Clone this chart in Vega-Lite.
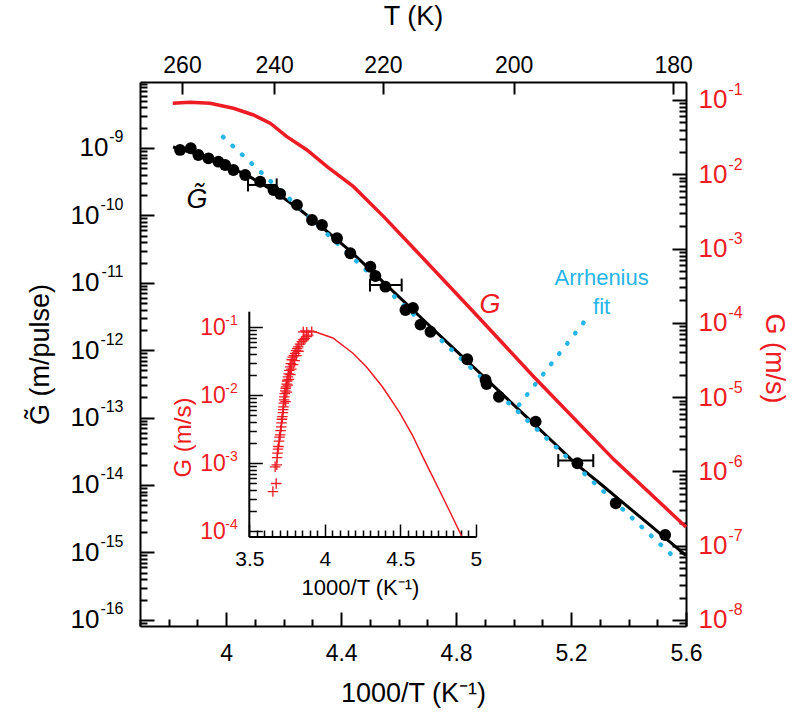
{
  "$schema": "https://vega.github.io/schema/vega-lite/v6.json",
  "autosize": {"type": "none"},
  "width": 546,
  "height": 544,
  "padding": {"left": 140, "top": 82, "right": 107, "bottom": 89},
  "background": "white",
  "config": {
    "font": "Liberation Sans",
    "view": {"stroke": null},
    "axis": {"grid": false, "domainColor": "black", "domainWidth": 2, "tickColor": "black", "tickWidth": 2, "labelColor": "black", "titleColor": "black", "titleFontWeight": "normal", "labelFont": "Liberation Sans", "titleFont": "Liberation Sans", "labelOverlap": false, "labelFlush": false, "labelBound": false}
  },
  "datasets": {
    "dots": [
      {"x": 3.8394, "g": 9.35e-10}, {"x": 3.8767, "g": 9.9e-10}, {"x": 3.9032, "g": 7.87e-10}, {"x": 3.9381, "g": 7.03e-10},
      {"x": 3.9729, "g": 6.26e-10}, {"x": 3.9963, "g": 5.6e-10}, {"x": 4.0252, "g": 4.72e-10}, {"x": 4.066, "g": 3.98e-10},
      {"x": 4.1183, "g": 3.16e-10}, {"x": 4.1646, "g": 2.38e-10}, {"x": 4.188, "g": 2.08e-10}, {"x": 4.2462, "g": 1.43e-10},
      {"x": 4.2985, "g": 8.55e-11}, {"x": 4.3333, "g": 7.21e-11}, {"x": 4.3856, "g": 4.58e-11}, {"x": 4.432, "g": 2.74e-11},
      {"x": 4.5017, "g": 1.73e-11}, {"x": 4.5191, "g": 1.26e-11}, {"x": 4.554, "g": 8.75e-12}, {"x": 4.6237, "g": 3.95e-12},
      {"x": 4.6498, "g": 4.23e-12}, {"x": 4.676, "g": 2.4e-12}, {"x": 4.7108, "g": 1.88e-12}, {"x": 4.8387, "g": 7.33e-13},
      {"x": 4.9025, "g": 3.61e-13}, {"x": 4.906, "g": 3.15e-13}, {"x": 4.9489, "g": 2.04e-13}, {"x": 5.0768, "g": 8.7e-14},
      {"x": 5.2221, "g": 2.1e-14}, {"x": 5.3556, "g": 5.35e-15}, {"x": 5.5275, "g": 1.81e-15}
    ],
    "fit": [
      {"x": 3.815, "g": 1.035e-9}, {"x": 3.909, "g": 7.87e-10}, {"x": 3.996, "g": 5.6e-10}, {"x": 4.083, "g": 3.72e-10},
      {"x": 4.171, "g": 2.22e-10}, {"x": 4.258, "g": 1.2e-10}, {"x": 4.345, "g": 6.07e-11}, {"x": 4.432, "g": 2.96e-11},
      {"x": 4.519, "g": 1.32e-11}, {"x": 4.606, "g": 5.92e-12}, {"x": 4.693, "g": 2.64e-12}, {"x": 4.78, "g": 1.18e-12},
      {"x": 4.868, "g": 5.26e-13}, {"x": 4.955, "g": 2.35e-13}, {"x": 5.042, "g": 1.05e-13}, {"x": 5.129, "g": 4.69e-14},
      {"x": 5.216, "g": 2.08e-14}, {"x": 5.303, "g": 1.035e-14}, {"x": 5.39, "g": 5.06e-15}, {"x": 5.478, "g": 2.47e-15},
      {"x": 5.6, "g": 9.0e-16}
    ],
    "arr": [{"x": 3.989, "g": 1.46e-9}, {"x": 5.558, "g": 8.55e-16}],
    "ptr": [{"x": 5.019, "g": 1.54e-13}, {"x": 5.251, "g": 2.81e-12}],
    "err": [
      {"x": 4.0758, "hi": 4.1756, "g": 2.83e-10},
      {"x": 4.5003, "hi": 4.6106, "g": 9.25e-12},
      {"x": 5.1555, "hi": 5.2773, "g": 2.3e-14}
    ],
    "caps": [
      {"x": 4.0758, "g": 2.83e-10}, {"x": 4.1756, "g": 2.83e-10},
      {"x": 4.5003, "g": 9.25e-12}, {"x": 4.6106, "g": 9.25e-12},
      {"x": 5.1555, "g": 2.3e-14}, {"x": 5.2773, "g": 2.3e-14}
    ],
    "cyanText": [{"x": 5.3065, "g": 1.18e-11, "t": "Arrhenius"}, {"x": 5.3065, "g": 4.37e-12, "t": "fit"}],
    "redText": [{"x": 4.918, "g": 4.69e-12, "t": "G"}],
    "blackText": [{"x": 3.898, "g": 1.69e-10, "t": "G̃"}],
    "red": [
      {"x": 3.814, "G": 0.0902}, {"x": 3.874, "G": 0.0931}, {"x": 3.944, "G": 0.0902}, {"x": 4.025, "G": 0.0773},
      {"x": 4.095, "G": 0.0628}, {"x": 4.153, "G": 0.0486}, {"x": 4.211, "G": 0.0321}, {"x": 4.281, "G": 0.0212},
      {"x": 4.351, "G": 0.01265}, {"x": 4.443, "G": 0.00681}, {"x": 4.548, "G": 0.00269}, {"x": 4.658, "G": 0.000957},
      {"x": 4.861, "G": 0.00014}, {"x": 5.071, "G": 0.0000187}, {"x": 5.35, "G": 0.00000143}, {"x": 5.6, "G": 0.000000179}
    ],
    "iframe": [
      {"ix": 3.5, "iG": 8.17e-5, "ix2": 3.5, "iG2": 0.168},
      {"ix": 3.5, "iG": 8.17e-5, "ix2": 5.0, "iG2": 8.17e-5}
    ],
    "icross": [
      {"ix": 3.656, "iG": 0.00038}, {"ix": 3.678, "iG": 0.0005}, {"ix": 3.671, "iG": 0.00088}, {"ix": 3.682, "iG": 0.00094},
      {"ix": 3.684, "iG": 0.0012}, {"ix": 3.686, "iG": 0.0014}, {"ix": 3.69, "iG": 0.0016}, {"ix": 3.693, "iG": 0.00175},
      {"ix": 3.697, "iG": 0.0021}, {"ix": 3.7, "iG": 0.0024}, {"ix": 3.704, "iG": 0.0026}, {"ix": 3.707, "iG": 0.003},
      {"ix": 3.711, "iG": 0.0034}, {"ix": 3.713, "iG": 0.0039}, {"ix": 3.716, "iG": 0.0044}, {"ix": 3.719, "iG": 0.0048},
      {"ix": 3.722, "iG": 0.0055}, {"ix": 3.724, "iG": 0.0061}, {"ix": 3.726, "iG": 0.0067}, {"ix": 3.728, "iG": 0.0076},
      {"ix": 3.73, "iG": 0.0085}, {"ix": 3.732, "iG": 0.0094}, {"ix": 3.735, "iG": 0.0105}, {"ix": 3.738, "iG": 0.0115},
      {"ix": 3.741, "iG": 0.0125}, {"ix": 3.743, "iG": 0.0132}, {"ix": 3.747, "iG": 0.0145}, {"ix": 3.75, "iG": 0.016},
      {"ix": 3.752, "iG": 0.0166}, {"ix": 3.756, "iG": 0.0185}, {"ix": 3.76, "iG": 0.0205}, {"ix": 3.765, "iG": 0.023},
      {"ix": 3.77, "iG": 0.026}, {"ix": 3.775, "iG": 0.029}, {"ix": 3.781, "iG": 0.033}, {"ix": 3.787, "iG": 0.036},
      {"ix": 3.795, "iG": 0.038}, {"ix": 3.803, "iG": 0.041}, {"ix": 3.81, "iG": 0.045}, {"ix": 3.817, "iG": 0.048},
      {"ix": 3.824, "iG": 0.051}, {"ix": 3.835, "iG": 0.056}, {"ix": 3.847, "iG": 0.061}, {"ix": 3.858, "iG": 0.065},
      {"ix": 3.868, "iG": 0.068}, {"ix": 3.88, "iG": 0.072}, {"ix": 3.89, "iG": 0.076}, {"ix": 3.857, "iG": 0.085},
      {"ix": 3.913, "iG": 0.085}, {"ix": 3.88, "iG": 0.084}, {"ix": 3.74, "iG": 0.008}, {"ix": 3.748, "iG": 0.011},
      {"ix": 3.755, "iG": 0.014}, {"ix": 3.762, "iG": 0.017}, {"ix": 3.772, "iG": 0.02}, {"ix": 3.778, "iG": 0.024},
      {"ix": 3.79, "iG": 0.028}, {"ix": 3.8, "iG": 0.032}, {"ix": 3.812, "iG": 0.038}, {"ix": 3.826, "iG": 0.044}
    ],
    "iline": [
      {"ix": 3.836, "iG": 0.0873}, {"ix": 3.921, "iG": 0.0873}, {"ix": 4.053, "iG": 0.0689}, {"ix": 4.184, "iG": 0.0415},
      {"ix": 4.276, "iG": 0.0258}, {"ix": 4.382, "iG": 0.0131}, {"ix": 4.493, "iG": 0.00562}, {"ix": 4.579, "iG": 0.00258},
      {"ix": 4.658, "iG": 0.00111}, {"ix": 4.757, "iG": 0.000401}, {"ix": 4.822, "iG": 0.000204}, {"ix": 4.905, "iG": 0.0000845}
    ]
  },
  "layer": [
    {
      "encoding": {
        "x": {"field": "x", "type": "quantitative", "scale": {"domain": [3.7, 5.6], "nice": false, "zero": false},
          "axis": {
            "orient": "bottom",
            "values": [3.7, 3.8, 3.9, 4.0, 4.1, 4.2, 4.3, 4.4, 4.5, 4.6, 4.7, 4.8, 4.9, 5.0, 5.1, 5.2, 5.3, 5.4, 5.5, 5.6],
            "tickSize": {"condition": {"test": "round(datum.value*10) % 4 == 0", "value": -14}, "value": -7},
            "labelExpr": "round(datum.value*10) % 4 == 0 ? format(datum.value, '.1~f') : ''",
            "labelFontSize": 23, "labelPadding": 30,
            "title": "1000/T (K⁻¹)", "titleFontSize": 27, "titleX": 273, "titleY": 67, "titleBaseline": "middle", "titleAlign": "center"
          }},
        "y": {"field": "g", "type": "quantitative", "scale": {"type": "log", "domain": [8.09e-17, 9.53e-9], "nice": false},
          "axis": {
            "orient": "left",
            "values": [9e-17, 1e-16, 2e-16, 3e-16, 4e-16, 5e-16, 6e-16, 7e-16, 8e-16, 9e-16, 1e-15, 2e-15, 3e-15, 4e-15, 5e-15, 6e-15, 7e-15, 8e-15, 9e-15, 1e-14, 2e-14, 3e-14, 4e-14, 5e-14, 6e-14, 7e-14, 8e-14, 9e-14, 1e-13, 2e-13, 3e-13, 4e-13, 5e-13, 6e-13, 7e-13, 8e-13, 9e-13, 1e-12, 2e-12, 3e-12, 4e-12, 5e-12, 6e-12, 7e-12, 8e-12, 9e-12, 1e-11, 2e-11, 3e-11, 4e-11, 5e-11, 6e-11, 7e-11, 8e-11, 9e-11, 1e-10, 2e-10, 3e-10, 4e-10, 5e-10, 6e-10, 7e-10, 8e-10, 9e-10, 1e-9, 2e-9, 3e-9, 4e-9, 5e-9, 6e-9, 7e-9, 8e-9, 9e-9],
            "tickSize": {"condition": {"test": "abs(log(datum.value)/LN10 - round(log(datum.value)/LN10)) < 0.001", "value": -14}, "value": -7},
            "labelExpr": "abs(log(datum.value)/LN10 - round(log(datum.value)/LN10)) < 0.001 ? '10' : ''",
            "labelPadding": {"condition": {"test": "round(log(datum.value)/LN10) > -10", "value": 46}, "value": 55},
            "labelFontSize": 26,
            "title": "G̃ (m/pulse)", "titleFontSize": 27, "titleX": -100, "titleY": 272, "titleAngle": -90, "titleBaseline": "middle", "titleAlign": "center"
          }}
      },
      "layer": [
        {"data": {"name": "fit"}, "mark": {"type": "line", "color": "black", "strokeWidth": 3, "clip": true}},
        {"data": {"name": "arr"}, "mark": {"type": "line", "color": "#25b5e8", "strokeWidth": 4.5, "strokeDash": [0.5, 12.5], "strokeCap": "round"}},
        {"data": {"name": "ptr"}, "mark": {"type": "line", "color": "#25b5e8", "strokeWidth": 4.5, "strokeDash": [0.5, 12.5], "strokeCap": "round"}},
        {"data": {"name": "dots"}, "mark": {"type": "circle", "size": 140, "color": "black", "opacity": 1}},
        {"data": {"name": "err"}, "mark": {"type": "rule", "color": "black", "strokeWidth": 2}, "encoding": {"x2": {"field": "hi"}}},
        {"data": {"name": "caps"}, "mark": {"type": "tick", "orient": "vertical", "color": "black", "size": 13, "thickness": 2, "opacity": 1}},
        {"data": {"name": "cyanText"}, "mark": {"type": "text", "fontSize": 22, "color": "#25b5e8"}, "encoding": {"text": {"field": "t"}}},
        {"data": {"name": "redText"}, "mark": {"type": "text", "fontSize": 27, "fontStyle": "italic", "color": "#ed1c24"}, "encoding": {"text": {"field": "t"}}},
        {"data": {"name": "blackText"}, "mark": {"type": "text", "fontSize": 27, "fontStyle": "italic", "color": "black"}, "encoding": {"text": {"field": "t"}}}
      ]
    },
    {
      "data": {"name": "dots"},
      "mark": {"type": "circle", "opacity": 0},
      "encoding": {
        "x": {"field": "x", "type": "quantitative", "scale": {"domain": [3.7, 5.6], "nice": false, "zero": false}, "axis": null},
        "y": {"field": "g", "type": "quantitative", "scale": {"type": "log", "domain": [8.09e-17, 9.53e-9], "nice": false},
          "axis": {
            "orient": "left", "domain": false, "ticks": false, "tickSize": 0,
            "values": [1e-16, 1e-15, 1e-14, 1e-13, 1e-12, 1e-11, 1e-10, 1e-9],
            "labelExpr": "'-' + format(-round(log(datum.value)/LN10), 'd')",
            "labelFontSize": 16, "labelPadding": 17, "labelOffset": -11, "labelAlign": "right",
            "title": null
          }}
      }
    },
    {
      "data": {"name": "red"},
      "mark": {"type": "line", "color": "#ed1c24", "strokeWidth": 3.5},
      "encoding": {
        "x": {"field": "x", "type": "quantitative", "scale": {"domain": [3.7, 5.6], "nice": false, "zero": false},
          "axis": {
            "orient": "top",
            "values": [3.8461538, 4.1666667, 4.5454545, 5.0, 5.5555556],
            "labelExpr": "format(1000/datum.value, '.0f')",
            "tickSize": -12, "labelPadding": 17, "labelFontSize": 23,
            "title": "T (K)", "titleFontSize": 27, "titleX": 273, "titleY": -66, "titleBaseline": "middle", "titleAlign": "center"
          }},
        "y": {"field": "G", "type": "quantitative", "scale": {"type": "log", "domain": [8.3e-9, 0.1746], "nice": false},
          "axis": {
            "orient": "right",
            "values": [9e-9, 1e-8, 2e-8, 3e-8, 4e-8, 5e-8, 6e-8, 7e-8, 8e-8, 9e-8, 1e-7, 2e-7, 3e-7, 4e-7, 5e-7, 6e-7, 7e-7, 8e-7, 9e-7, 1e-6, 2e-6, 3e-6, 4e-6, 5e-6, 6e-6, 7e-6, 8e-6, 9e-6, 1e-5, 2e-5, 3e-5, 4e-5, 5e-5, 6e-5, 7e-5, 8e-5, 9e-5, 1e-4, 2e-4, 3e-4, 4e-4, 5e-4, 6e-4, 7e-4, 8e-4, 9e-4, 1e-3, 2e-3, 3e-3, 4e-3, 5e-3, 6e-3, 7e-3, 8e-3, 9e-3, 1e-2, 2e-2, 3e-2, 4e-2, 5e-2, 6e-2, 7e-2, 8e-2, 9e-2, 1e-1],
            "tickSize": {"condition": {"test": "abs(log(datum.value)/LN10 - round(log(datum.value)/LN10)) < 0.001", "value": -14}, "value": -7},
            "labelExpr": "abs(log(datum.value)/LN10 - round(log(datum.value)/LN10)) < 0.001 ? '10' : ''",
            "labelFontSize": 26, "labelPadding": 26, "labelColor": "#ed1c24",
            "title": "G (m/s)", "titleColor": "#ed1c24", "titleFontSize": 27, "titleX": 87, "titleY": 276, "titleAngle": 90, "titleBaseline": "middle", "titleAlign": "center"
          }}
      }
    },
    {
      "data": {"name": "red"},
      "mark": {"type": "line", "opacity": 0},
      "encoding": {
        "x": {"field": "x", "type": "quantitative", "scale": {"domain": [3.7, 5.6], "nice": false, "zero": false}, "axis": null},
        "y": {"field": "G", "type": "quantitative", "scale": {"type": "log", "domain": [8.3e-9, 0.1746], "nice": false},
          "axis": {
            "orient": "right", "domain": false, "ticks": false, "tickSize": 0,
            "values": [1e-8, 1e-7, 1e-6, 1e-5, 1e-4, 1e-3, 1e-2, 1e-1],
            "labelExpr": "'-' + format(-round(log(datum.value)/LN10), 'd')",
            "labelFontSize": 16, "labelPadding": 42, "labelOffset": -10, "labelAlign": "left", "labelColor": "#ed1c24",
            "title": null
          }}
      }
    },
    {
      "encoding": {
        "x": {"field": "ix", "type": "quantitative", "scale": {"domain": [2.7766, 6.39], "nice": false, "zero": false},
          "axis": {
            "orient": "bottom", "offset": -89, "domain": false,
            "values": [3.5, 3.55, 3.6, 3.65, 3.7, 3.75, 3.8, 3.85, 3.9, 3.95, 4.0, 4.05, 4.1, 4.15, 4.2, 4.25, 4.3, 4.35, 4.4, 4.45, 4.5, 4.55, 4.6, 4.65, 4.7, 4.75, 4.8, 4.85, 4.9, 4.95, 5.0],
            "tickSize": {"condition": {"test": "round(datum.value*20) % 10 == 0", "value": -13}, "value": -7},
            "tickWidth": 1.5,
            "labelExpr": "round(datum.value*20) % 10 == 0 ? format(datum.value, '.1~f') : ''",
            "labelFontSize": 21, "labelPadding": 24,
            "title": "1000/T (K⁻¹)", "titleFontSize": 22, "titleX": 220, "titleY": 50, "titleBaseline": "middle", "titleAlign": "center"
          }},
        "y": {"field": "iG", "type": "quantitative", "scale": {"type": "log", "domain": [4.01e-6, 401], "nice": false},
          "axis": {
            "orient": "left", "offset": -109.3, "domain": false,
            "values": [1e-4, 2e-4, 3e-4, 4e-4, 5e-4, 6e-4, 7e-4, 8e-4, 9e-4, 1e-3, 2e-3, 3e-3, 4e-3, 5e-3, 6e-3, 7e-3, 8e-3, 9e-3, 1e-2, 2e-2, 3e-2, 4e-2, 5e-2, 6e-2, 7e-2, 8e-2, 9e-2, 1e-1],
            "tickSize": {"condition": {"test": "abs(log(datum.value)/LN10 - round(log(datum.value)/LN10)) < 0.001", "value": -13}, "value": -7},
            "tickWidth": 1.5,
            "labelExpr": "abs(log(datum.value)/LN10 - round(log(datum.value)/LN10)) < 0.001 ? '10' : ''",
            "labelFontSize": 23, "labelPadding": 37, "labelColor": "#ed1c24",
            "title": "G (m/s)", "titleColor": "#ed1c24", "titleFontSize": 24, "titleX": -66, "titleY": 355, "titleAngle": -90, "titleBaseline": "middle", "titleAlign": "center"
          }}
      },
      "layer": [
        {"data": {"name": "iframe"}, "mark": {"type": "rule", "color": "black", "strokeWidth": 2},
          "encoding": {"x2": {"field": "ix2"}, "y2": {"field": "iG2"}}},
        {"data": {"name": "icross"}, "mark": {"type": "point", "shape": "M-1,0H1M0,-1V1", "filled": false, "color": "#ed1c24", "strokeWidth": 1.3, "size": 110, "opacity": 1}},
        {"data": {"name": "iline"}, "mark": {"type": "line", "color": "#ed1c24", "strokeWidth": 1.5}}
      ]
    },
    {
      "data": {"name": "iline"},
      "mark": {"type": "line", "opacity": 0},
      "encoding": {
        "x": {"field": "ix", "type": "quantitative", "scale": {"domain": [2.7766, 6.39], "nice": false, "zero": false}, "axis": null},
        "y": {"field": "iG", "type": "quantitative", "scale": {"type": "log", "domain": [4.01e-6, 401], "nice": false},
          "axis": {
            "orient": "left", "offset": -109.3, "domain": false, "ticks": false, "tickSize": 0,
            "values": [1e-4, 1e-3, 1e-2, 1e-1],
            "labelExpr": "'-' + format(-round(log(datum.value)/LN10), 'd')",
            "labelFontSize": 14, "labelPadding": 12, "labelOffset": -7, "labelAlign": "right", "labelColor": "#ed1c24",
            "title": null
          }}
      }
    }
  ],
  "resolve": {"scale": {"x": "independent", "y": "independent"}, "axis": {"x": "independent", "y": "independent"}}
}
